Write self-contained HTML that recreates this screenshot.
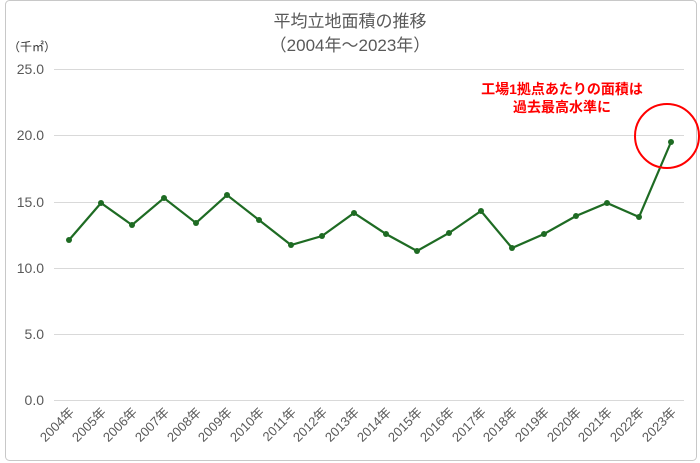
<!DOCTYPE html>
<html><head><meta charset="utf-8"><style>
body{margin:0;background:#fff;}
svg{display:block;font-family:"Liberation Sans","Noto Sans CJK JP",sans-serif;}
</style></head><body>
<svg width="700" height="463" viewBox="0 0 700 463">
<rect x="5.5" y="0.5" width="691" height="460" rx="4" fill="#fff" stroke="#c8c8c8"/>
<text x="350" y="27" text-anchor="middle" font-size="17" fill="#595959">平均立地面積の推移</text>
<text x="350" y="51" text-anchor="middle" font-size="17" fill="#595959">（2004年～2023年）</text>
<text x="8" y="51" font-size="12" fill="#333">（千㎡）</text>
<g stroke="#d9d9d9" stroke-width="1">
<line x1="54" x2="684" y1="69.5" y2="69.5"/>
<line x1="54" x2="684" y1="135.5" y2="135.5"/>
<line x1="54" x2="684" y1="202.5" y2="202.5"/>
<line x1="54" x2="684" y1="268.5" y2="268.5"/>
<line x1="54" x2="684" y1="334.5" y2="334.5"/>
<line x1="54" x2="684" y1="400.5" y2="400.5"/>
</g>
<g font-size="14" fill="#595959" text-anchor="end">
<text x="44" y="74">25.0</text><text x="44" y="140">20.0</text><text x="44" y="207">15.0</text>
<text x="44" y="273">10.0</text><text x="44" y="339">5.0</text><text x="44" y="405">0.0</text>
</g>
<g font-size="13" fill="#595959" text-anchor="end">
<text transform="translate(75,413) rotate(-45)">2004年</text>
<text transform="translate(107,413) rotate(-45)">2005年</text>
<text transform="translate(138,413) rotate(-45)">2006年</text>
<text transform="translate(170,413) rotate(-45)">2007年</text>
<text transform="translate(202,413) rotate(-45)">2008年</text>
<text transform="translate(233,413) rotate(-45)">2009年</text>
<text transform="translate(265,413) rotate(-45)">2010年</text>
<text transform="translate(297,413) rotate(-45)">2011年</text>
<text transform="translate(328,413) rotate(-45)">2012年</text>
<text transform="translate(360,413) rotate(-45)">2013年</text>
<text transform="translate(392,413) rotate(-45)">2014年</text>
<text transform="translate(423,413) rotate(-45)">2015年</text>
<text transform="translate(455,413) rotate(-45)">2016年</text>
<text transform="translate(487,413) rotate(-45)">2017年</text>
<text transform="translate(518,413) rotate(-45)">2018年</text>
<text transform="translate(550,413) rotate(-45)">2019年</text>
<text transform="translate(582,413) rotate(-45)">2020年</text>
<text transform="translate(613,413) rotate(-45)">2021年</text>
<text transform="translate(645,413) rotate(-45)">2022年</text>
<text transform="translate(677,413) rotate(-45)">2023年</text>
</g>
<polyline fill="none" stroke="#1e6b23" stroke-width="2.2" points="69,240 101,203 132,225 164,198 196,223 227,195 259,220 291,245 322,236 354,213 386,234 417,251 449,233 481,211 512,248 544,234 576,216 607,203 639,217 671,142"/>
<g fill="#1e6b23">
<circle cx="69" cy="240" r="3"/><circle cx="101" cy="203" r="3"/><circle cx="132" cy="225" r="3"/><circle cx="164" cy="198" r="3"/><circle cx="196" cy="223" r="3"/><circle cx="227" cy="195" r="3"/><circle cx="259" cy="220" r="3"/><circle cx="291" cy="245" r="3"/><circle cx="322" cy="236" r="3"/><circle cx="354" cy="213" r="3"/><circle cx="386" cy="234" r="3"/><circle cx="417" cy="251" r="3"/><circle cx="449" cy="233" r="3"/><circle cx="481" cy="211" r="3"/><circle cx="512" cy="248" r="3"/><circle cx="544" cy="234" r="3"/><circle cx="576" cy="216" r="3"/><circle cx="607" cy="203" r="3"/><circle cx="639" cy="217" r="3"/><circle cx="671" cy="142" r="3"/>
</g>
<circle cx="667" cy="136" r="32" fill="none" stroke="#ff0000" stroke-width="2"/>
<g font-size="14" fill="#ff0000" text-anchor="middle" font-weight="bold">
<text x="562" y="94">工場1拠点あたりの面積は</text>
<text x="562" y="112">過去最高水準に</text>
</g>
</svg>
</body></html>
